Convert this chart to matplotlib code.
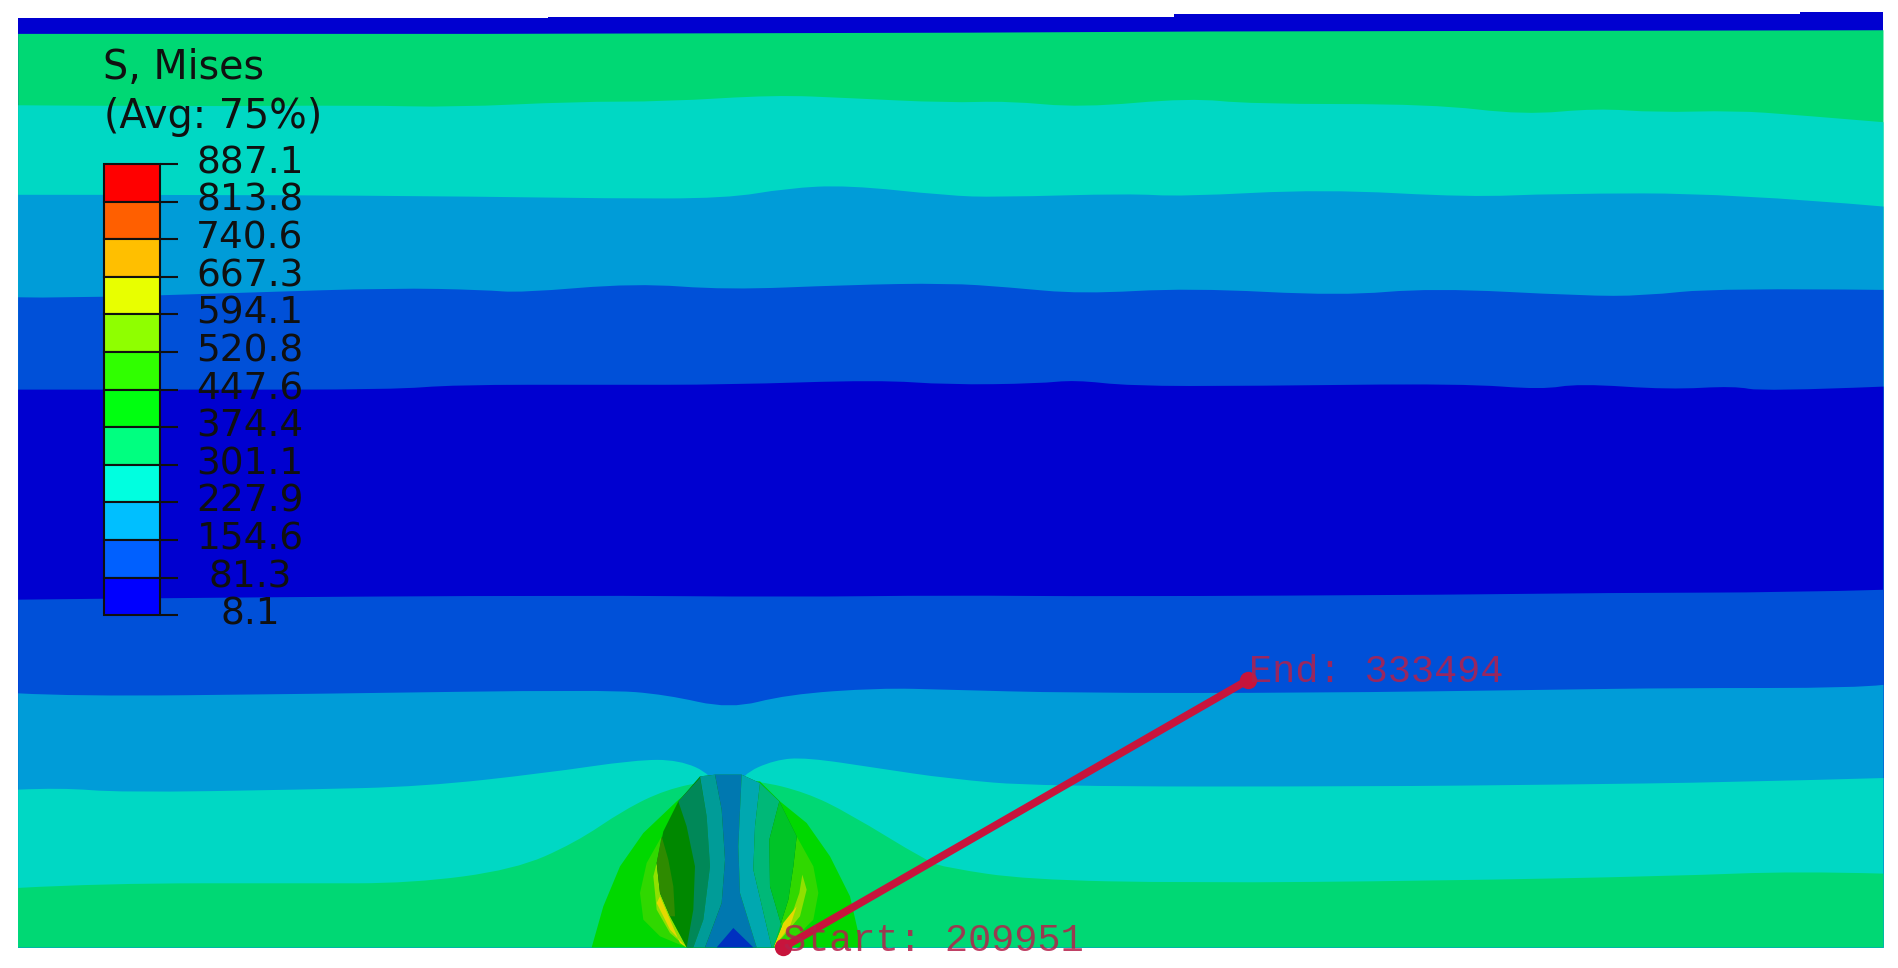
import numpy as np
import matplotlib
matplotlib.use("Agg")
import matplotlib.pyplot as plt
from matplotlib.path import Path
from matplotlib.patches import PathPatch

W, H = 1898, 968
legend_title = ["S, Mises", "(Avg: 75%)"]
levels = ["887.1", "813.8", "740.6", "667.3", "594.1", "520.8", "447.6",
          "374.4", "301.1", "227.9", "154.6", "81.3", "8.1"]
level_colors = ["#FF0000", "#FF5F00", "#FFBF00", "#E8FF00", "#8FFF00", "#30FF00",
                "#00FF10", "#00FF80", "#00FFE0", "#00BFFF", "#0060FF", "#0000FF"]

NAVY, MID, BLUE, TEAL, GREEN = "#0000D0", "#0050D8", "#009CD8", "#00D8C4", "#00D874"

# band upper boundaries (reference x, y in 1568x800 units)
top_x = [15, 453, 453, 970, 970, 1487, 1487, 1556]
top_y = [15, 15, 14, 14, 11.5, 11.5, 10, 10]
green_x = [15, 400, 800, 1000, 1556]
green_y = [28, 28, 27, 26, 25]
a_x = [15, 150, 300, 375, 475, 550, 640, 700, 783, 833, 893, 983, 1033, 1183, 1259, 1319, 1368, 1433, 1484, 1556]
a_y = [87, 88, 87, 88.7, 84, 84, 78.5, 81, 85, 83.5, 89, 81, 86, 86, 95, 89.5, 93, 91.4, 95, 101]
b_x = [15, 200, 400, 500, 600, 650, 700, 783, 823, 933, 976, 1093, 1214, 1284, 1429, 1556]
b_y = [161, 161, 162.5, 164, 164, 155.6, 153, 161.7, 163, 160, 162.5, 156.4, 163, 160, 159.7, 170.7]
c_x = [15, 50, 200, 325, 400, 430, 525, 600, 700, 783, 833, 893, 983, 1108, 1183, 1308, 1358, 1419, 1556]
c_y = [245.7, 246.5, 242, 238, 239.6, 242, 234, 239.6, 235.5, 234, 237.4, 243, 238, 244.5, 238, 244.5, 244.5, 238, 239.6]
d_x = [15, 150, 325, 375, 500, 600, 726, 783, 858, 888, 933, 1033, 1208, 1274, 1304, 1379, 1433, 1456, 1556]
d_y = [322, 322, 322, 318, 318, 318, 314, 318, 317, 314, 319, 319, 317, 322, 317, 322, 319, 323.6, 319.5]
e_x = [15, 150, 475, 650, 783, 913, 1208, 1323, 1483, 1556]
e_y = [495.6, 494, 492, 493.4, 492, 493, 491.5, 490, 489.6, 487.4]
f_x = [15, 60, 250, 500, 550, 603, 650, 726, 783, 883, 1083, 1284, 1384, 1534, 1556]
f_y = [573, 575.5, 573.6, 570, 574, 586, 574, 568.6, 570, 572.7, 572.7, 570, 568.6, 568.6, 566]
g_x = [15, 50, 100, 250, 350, 450, 525, 561, 588, 600, 613, 640, 666, 726, 783, 858, 1133, 1284, 1433, 1556]
g_y = [652.6, 651, 655, 652.6, 650, 639, 628, 628, 640, 665, 640, 628, 626, 635, 643.5, 650, 650, 648.5, 646.5, 643]
h_x = [15, 85, 250, 340, 425, 475, 516, 550, 586, 626, 666, 701, 766, 783, 848, 983, 1183, 1384, 1484, 1556]
h_y = [733.8, 730, 730, 730, 718.7, 696.7, 669, 652.6, 645, 645, 655, 672, 711.8, 717.3, 727, 729.7, 728, 724, 720, 722]
straight_bands = [(top_x, top_y, NAVY), (green_x, green_y, GREEN)]
curved_bands = [(a_x, a_y, TEAL), (b_x, b_y, BLUE), (c_x, c_y, MID), (d_x, d_y, NAVY),
                (e_x, e_y, MID), (f_x, f_y, BLUE), (g_x, g_y, TEAL), (h_x, h_y, GREEN)]

# contact zone outlines, in 3x crop pixels of the region around the ellipse
zone_hump = ([-145, -110, -60, 10, 110, 180, 360, 420, 500, 570, 630, 665],
             [565, 440, 320, 220, 125, 65, 65, 125, 190, 290, 410, 565])
zone_left_a = ([65, 20, 0, 10, 60, 140, 90, 60, 50], [230, 310, 400, 480, 530, 565, 470, 400, 310])
zone_right_a = ([470, 520, 535, 520, 470, 400, 445, 460], [230, 320, 400, 480, 530, 565, 420, 320])
zone_left_b = ([40, 50, 90, 140, 90, 60, 50], [350, 450, 520, 565, 470, 400, 310])
zone_right_b = ([487, 500, 480, 430, 400, 450, 478], [345, 390, 470, 530, 565, 480, 400])
zone_left_c = ([50, 90, 140, 120, 90, 60], [430, 510, 565, 550, 480, 410])
zone_right_c = ([470, 450, 400, 430], [440, 500, 565, 490])
lens_outline = ([180, 225, 305, 360, 418, 470, 460, 445, 400, 140, 90, 60, 50, 70, 115],
                [50, 45, 45, 70, 125, 230, 320, 420, 565, 565, 470, 400, 310, 215, 125])
lens_bands = [
    ([65, 85, 100, 105, 90, 60, 50], [230, 300, 380, 470, 470, 400, 310], "#2E8B00"),
    ([115, 180, 200, 210, 190, 160, 140, 160, 165, 140], [125, 55, 170, 320, 480, 565, 565, 450, 320, 200], "#008858"),
    ([180, 225, 245, 255, 245, 195, 160, 190, 210, 200], [50, 45, 150, 300, 430, 565, 565, 480, 320, 170], "#009C98"),
    ([225, 305, 295, 300, 350, 195, 245, 255, 245], [45, 45, 260, 400, 565, 565, 430, 300, 150], "#0078B0"),
    ([305, 360, 345, 340, 395, 350, 300, 295], [45, 70, 200, 330, 565, 565, 400, 260], "#00A8B0"),
    ([360, 418, 388, 390, 425, 400, 395, 340, 345], [70, 125, 240, 380, 500, 565, 565, 330, 200], "#00B878"),
    ([418, 470, 460, 445, 400, 425, 390, 388], [125, 230, 320, 420, 565, 500, 380, 240], "#00C428"),
    ([230, 280, 340], [565, 505, 565], "#0030C0"),
]

start_pt = (647, 783)
end_pt = (1031, 562)
start_label = "Start: 209951"
end_label = "End: 333494"
RED = "#C8143C"
LABEL = "#B5204A"

fig = plt.figure(figsize=(W / 100, H / 100), dpi=100, facecolor="white")
ax = fig.add_axes([0, 0, 1, 1])
ax.set_xlim(0, 1568)
ax.set_ylim(800, 0)
ax.axis("off")

BOTTOM, LEFT, RIGHT = 783, 15, 1556
for xs, ys, col in straight_bands:
    ax.fill(list(xs) + [RIGHT, LEFT], list(ys) + [BOTTOM, BOTTOM], color=col, lw=0)

def band_path(xs, ys):
    pts = np.column_stack([xs, ys]).astype(float)
    verts, codes = [pts[0]], [Path.MOVETO]
    for i in range(1, len(pts) - 1):
        end = pts[i + 1] if i == len(pts) - 2 else (pts[i] + pts[i + 1]) / 2
        verts += [pts[i], end]
        codes += [Path.CURVE3, Path.CURVE3]
    verts += [(RIGHT, BOTTOM), (LEFT, BOTTOM), (LEFT, ys[0])]
    codes += [Path.LINETO, Path.LINETO, Path.CLOSEPOLY]
    return Path(verts, codes)

for xs, ys, col in curved_bands:
    ax.add_patch(PathPatch(band_path(xs, ys), facecolor=col, edgecolor="none", lw=0))

S = 1898 / 1568
def crop(outline):
    zx, zy = np.asarray(outline[0], float), np.asarray(outline[1], float)
    return (640 + zx / 3) / S, np.minimum((760 + zy / 3) / S, BOTTOM)

ax.fill(*crop(zone_hump), color="#00D800", lw=0)
for z in (zone_left_a, zone_right_a):
    ax.fill(*crop(z), color="#30D800", lw=0)
for z in (zone_left_b, zone_right_b):
    ax.fill(*crop(z), color="#90E000", lw=0)
for z in (zone_left_c, zone_right_c):
    ax.fill(*crop(z), color="#E6D800", lw=0)
ax.fill(*crop(lens_outline), color="#008800", lw=0)
for xs, ys, col in lens_bands:
    ax.fill(*crop((xs, ys)), color=col, lw=0)

# legend
bar_l, bar_r, tick_r, bar_t, bar_b = 86, 132, 147, 135.5, 508.5
edges = np.linspace(bar_t, bar_b, len(levels))
for i, col in enumerate(level_colors):
    ax.fill([bar_l, bar_r, bar_r, bar_l], [edges[i], edges[i], edges[i + 1], edges[i + 1]],
            facecolor=col, edgecolor="#101010", lw=1.5)
for y, lab in zip(edges, levels):
    ax.plot([bar_r, tick_r], [y, y], color="#101010", lw=1.5, solid_capstyle="butt")
    ax.text(206.5, y - 0.5, lab, ha="center", va="center", fontsize=27, color="#101010",
            family="DejaVu Sans")
ax.text(85, 56.5, legend_title[0], ha="left", va="center", fontsize=28.5, color="#101010", family="DejaVu Sans")
ax.text(86, 96.5, legend_title[1], ha="left", va="center", fontsize=28.5, color="#101010", family="DejaVu Sans")

# path
ax.plot([start_pt[0], end_pt[0]], [start_pt[1], end_pt[1]], color=RED, lw=5.5, solid_capstyle="round")
ax.plot([start_pt[0], end_pt[0]], [start_pt[1], end_pt[1]], ls="none", marker="o", ms=12.5, color=RED, mew=0, clip_on=False)
ax.text(647, 777.5, start_label, ha="left", va="center", fontsize=27.8, color=LABEL, alpha=0.85, family="Liberation Mono")
ax.text(1032, 555.5, end_label, ha="left", va="center", fontsize=27.8, color=LABEL, alpha=0.85, family="Liberation Mono")

fig.savefig("out.png", dpi=100, facecolor="white")
